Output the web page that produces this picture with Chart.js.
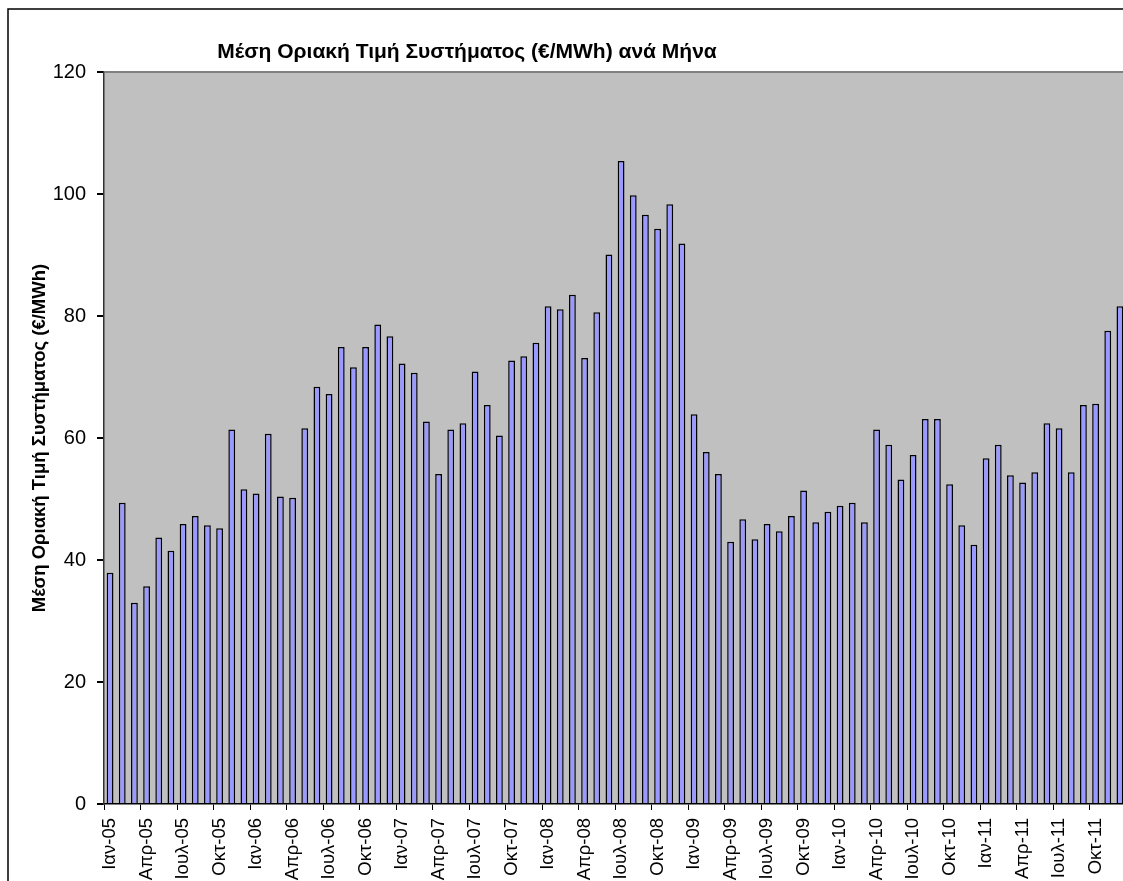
<!DOCTYPE html>
<html>
<head>
<meta charset="utf-8">
<script src="https://cdn.jsdelivr.net/npm/chart.js@4/dist/chart.umd.min.js"></script>
<style>
  html, body { margin: 0; padding: 0; background: #fff; overflow: hidden; }
  #wrap { position: relative; width: 1123px; height: 881px; overflow: hidden; }
</style>
</head>
<body>
<div id="wrap"><canvas id="smpChart" width="1126" height="881"></canvas></div>
<script>
// ---- data ----
const MONTHS = ["Ιαν", "Φεβ", "Μαρ", "Απρ", "Μαϊ", "Ιουν", "Ιουλ", "Αυγ", "Σεπ", "Οκτ", "Νοε", "Δεκ"];
const YEARS = ["05", "06", "07", "08", "09", "10", "11"];

const smp2005 = [37.9, 49.4, 33.0, 35.7, 43.7, 41.5, 45.9, 47.2, 45.7, 45.2, 61.4, 51.6];
const smp2006 = [50.9, 60.7, 50.4, 50.2, 61.6, 68.4, 67.2, 74.9, 71.6, 74.9, 78.6, 76.7];
const smp2007 = [72.2, 70.7, 62.7, 54.1, 61.4, 62.4, 70.9, 65.4, 60.4, 72.7, 73.4, 75.6];
const smp2008 = [81.6, 81.1, 83.5, 73.1, 80.6, 90.1, 105.4, 99.8, 96.6, 94.3, 98.3, 91.9];
const smp2009 = [63.9, 57.7, 54.1, 43.0, 46.7, 43.4, 45.9, 44.7, 47.2, 51.4, 46.2, 47.9];
const smp2010 = [48.9, 49.4, 46.2, 61.4, 58.9, 53.2, 57.2, 63.1, 63.1, 52.4, 45.7, 42.5];
const smp2011 = [56.7, 58.9, 53.9, 52.7, 54.4, 62.4, 61.6, 54.4, 65.4, 65.6, 77.6, 81.6];

const Y_TICKS = [0, 20, 40, 60, 80, 100, 120];
const TITLE = "Μέση Οριακή Τιμή Συστήματος (€/MWh) ανά Μήνα";
const Y_TITLE = "Μέση Οριακή Τιμή Συστήματος (€/MWh)";

// ---- build ----
const labels = [];
YEARS.forEach(y => MONTHS.forEach(m => labels.push(m + "-" + y)));
const values = [].concat(smp2005, smp2006, smp2007, smp2008, smp2009, smp2010, smp2011);

const FONT = "'Liberation Sans', Arial, sans-serif";

// white page, outer frame, grey plot area, title
const excelLook = {
  id: 'excelLook',
  beforeDraw(chart) {
    const c = chart.ctx, a = chart.chartArea;
    c.save();
    c.fillStyle = '#ffffff';
    c.fillRect(0, 0, chart.width, chart.height);
    c.strokeStyle = '#000';
    c.lineWidth = 1.5;
    c.beginPath();
    c.moveTo(8, chart.height + 5);
    c.lineTo(8, 9);
    c.lineTo(chart.width + 5, 9);
    c.stroke();
    c.fillStyle = '#c0c0c0';
    c.fillRect(a.left, a.top, a.right - a.left, a.bottom - a.top);
    c.fillStyle = '#000';
    c.font = "bold 21px " + FONT;
    c.textAlign = 'center';
    c.textBaseline = 'middle';
    c.fillText(TITLE, 467, 52);
    c.restore();
  }
};

new Chart(document.getElementById('smpChart'), {
  type: 'bar',
  data: {
    labels: labels,
    datasets: [{
      data: values,
      backgroundColor: '#9999ff',
      borderColor: '#000',
      borderWidth: 1.5,
      barPercentage: 0.56,
      categoryPercentage: 1.0
    }]
  },
  options: {
    responsive: false,
    animation: false,
    layout: { padding: { top: 72, left: 0, right: 0, bottom: 0 } },
    plugins: {
      legend: { display: false },
      title: { display: false },
      tooltip: { enabled: false }
    },
    scales: {
      x: {
        offset: true,
        afterFit: s => { s.height = 77; s.paddingLeft = 0; s.paddingRight = 0; },
        border: { color: '#000', width: 1.5 },
        grid: {
          offset: true,
          drawOnChartArea: false,
          tickLength: 6,
          tickColor: ctx => (ctx.index % 3 === 0 ? '#000' : 'rgba(0,0,0,0)')
        },
        ticks: {
          autoSkip: false,
          maxRotation: 90,
          minRotation: 90,
          padding: 8,
          color: '#000',
          font: { family: FONT, size: 18.5 },
          callback: (v, i) => (i % 3 === 0 ? labels[i] : '')
        }
      },
      y: {
        min: 0,
        max: 120,
        afterFit: s => { s.width = 104; },
        afterBuildTicks: s => { s.ticks = Y_TICKS.map(v => ({ value: v })); },
        border: { color: '#333', width: 1.5 },
        grid: {
          drawOnChartArea: true,
          color: ctx => (ctx.tick && ctx.tick.value === 120 ? '#808080' : 'rgba(0,0,0,0)'),
          lineWidth: 2,
          tickLength: 7,
          tickColor: '#000'
        },
        ticks: {
          padding: 11,
          color: '#000',
          font: { family: FONT, size: 20 }
        },
        title: {
          display: true,
          text: Y_TITLE,
          color: '#000',
          font: { family: FONT, size: 18.5, weight: 'bold' },
          padding: { top: 29, bottom: 0 }
        }
      }
    }
  },
  plugins: [excelLook]
});
</script>
</body>
</html>
